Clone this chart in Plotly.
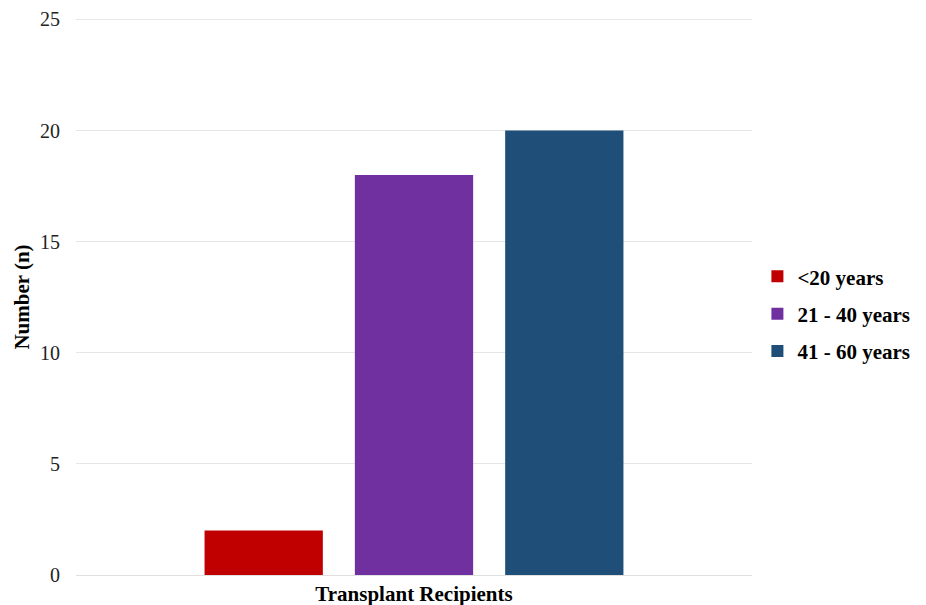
import plotly.graph_objects as go

categories = ["Transplant Recipients"]
series_names = ["<20 years", "21 - 40 years", "41 - 60 years"]
series_values = [[2], [18], [20]]
colors = ["#C00000", "#7030A0", "#1F4E79"]
y_ticks = [0, 5, 10, 15, 20, 25]

fig = go.Figure()
for i, (name, vals, col) in enumerate(zip(series_names, series_values, colors)):
    fig.add_trace(go.Bar(x=categories, y=vals, name="<b>" + name.replace("<", "&lt;") + "</b>",
                         legendgroup="g%d" % i,
                         marker=dict(color=col, line=dict(width=0))))

font_family = "Liberation Serif, Times New Roman, serif"
fig.update_layout(
    width=918, height=597,
    margin=dict(l=68, r=174, t=11, b=30, autoexpand=False),
    paper_bgcolor="white", plot_bgcolor="white",
    barmode="group", bargap=0.333, bargroupgap=0.213,
    font=dict(family=font_family, size=18, color="#000000"),
    legend=dict(x=1.008, y=0.47, xanchor="left", yanchor="middle",
                font=dict(family=font_family, size=21, color="#000000"),
                tracegroupgap=7, itemsizing="constant", itemwidth=30),
    showlegend=True,
)
# top gridline at the last tick (plotly omits grid lines on the plot edge)
fig.add_shape(type="line", xref="paper", x0=0, x1=1, yref="y", y0=y_ticks[-1], y1=y_ticks[-1],
              line=dict(color="#E6E6E6", width=1), layer="below")
fig.update_yaxes(range=[0, 25.02], tickvals=y_ticks, showgrid=True, gridcolor="#E6E6E6",
                 gridwidth=1, zeroline=False, showline=False, ticks="",
                 ticklabelstandoff=15, automargin=False,
                 tickfont=dict(family=font_family, size=20, color="#222222"),
                 title=dict(text="<b>Number (n)</b>", font=dict(family=font_family, size=21, color="#000000"),
                            standoff=4))
fig.update_xaxes(showline=True, linecolor="#E0E0E0", linewidth=1, ticks="", automargin=False,
                 tickfont=dict(family=font_family, size=21, color="#000000"),
                 tickvals=categories, ticktext=["<b>" + c + "</b>" for c in categories])

fig.write_html("out.html")
